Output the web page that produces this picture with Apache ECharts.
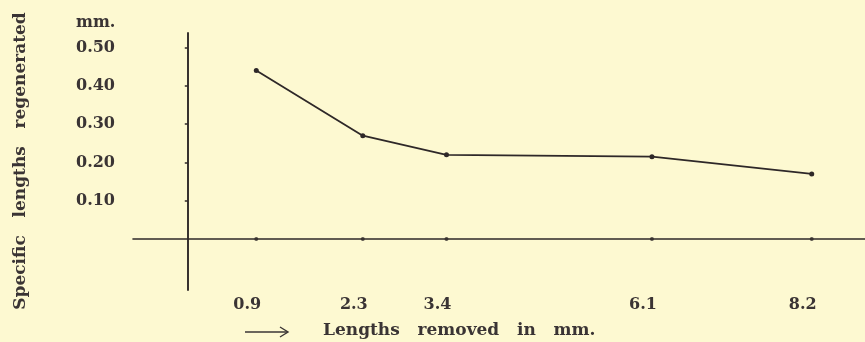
<!DOCTYPE html>
<html>
<head>
<meta charset="utf-8">
<style>
  html, body { margin: 0; padding: 0; background: #fdf9d1; }
  #chart { width: 865px; height: 342px; }
</style>
<script src="https://cdn.jsdelivr.net/npm/echarts@6/dist/echarts.min.js"></script>
</head>
<body>
<div id="chart"></div>
<script>
// Lengths removed (mm) and the specific lengths regenerated (mm)
const lengthsRemoved = [0.9, 2.3, 3.4, 6.1, 8.2];
const specificRegenerated = [0.44, 0.27, 0.22, 0.215, 0.17];
const yTickValues = [0.1, 0.2, 0.3, 0.4, 0.5];

const ink = '#2e2828';
const textColor = '#3a3434';
const serif = '"DejaVu Serif", "Liberation Serif", serif';

const chart = echarts.init(document.getElementById('chart'), null, { renderer: 'canvas' });

chart.setOption({
  backgroundColor: '#fdf9d1',
  animation: false,
  grid: { left: 133, right: 0, top: 33, bottom: 52, containLabel: false, outerBoundsMode: 'none' },
  xAxis: {
    type: 'value',
    min: -0.72,
    max: 8.9,
    splitLine: { show: false },
    axisLine: { show: true, onZero: true, lineStyle: { color: ink, width: 1.6 } },
    axisTick: { show: false },
    axisLabel: {
      customValues: lengthsRemoved,
      margin: 7,
      padding: [0, 18, 0, 0],
      color: textColor,
      fontFamily: serif,
      fontWeight: 'bold',
      fontSize: 16,
      formatter: v => v.toFixed(1)
    }
  },
  yAxis: {
    type: 'value',
    min: -0.133,
    max: 0.538,
    splitLine: { show: false },
    axisLine: { show: true, onZero: true, lineStyle: { color: ink, width: 1.9 } },
    axisTick: { show: true, customValues: yTickValues, length: 3, lineStyle: { color: ink, width: 1.5 } },
    axisLabel: {
      customValues: yTickValues,
      align: 'left',
      margin: 57,
      color: textColor,
      fontFamily: serif,
      fontWeight: 'bold',
      fontSize: 16,
      formatter: v => v.toFixed(2)
    }
  },
  graphic: [
    {
      type: 'text',
      left: 76,
      top: 15,
      style: { text: 'mm.', fill: textColor, font: 'bold 16px ' + serif }
    },
    {
      type: 'text',
      x: 21,
      y: 161,
      rotation: Math.PI / 2,
      style: {
        text: 'Specific   lengths   regenerated',
        fill: textColor,
        font: 'bold 17px ' + serif,
        align: 'center',
        verticalAlign: 'middle'
      }
    },
    // long arrow in front of the x-axis title
    {
      type: 'group',
      children: [
        { type: 'line', shape: { x1: 245, y1: 332, x2: 287, y2: 332 }, style: { stroke: textColor, lineWidth: 1.4 } },
        { type: 'polyline', shape: { points: [[280, 327], [288, 332], [280, 337]] }, style: { stroke: textColor, lineWidth: 1.4, fill: null } }
      ]
    },
    {
      type: 'text',
      x: 323,
      y: 331,
      style: {
        text: 'Lengths   removed   in   mm.',
        fill: textColor,
        font: 'bold 17px ' + serif,
        align: 'left',
        verticalAlign: 'middle'
      }
    }
  ],
  series: [
    {
      name: 'Specific lengths regenerated',
      type: 'line',
      data: lengthsRemoved.map((x, i) => [x, specificRegenerated[i]]),
      symbol: 'circle',
      symbolSize: 5,
      lineStyle: { color: ink, width: 1.8 },
      itemStyle: { color: ink }
    },
    {
      name: 'baseline points',
      type: 'scatter',
      data: lengthsRemoved.map(x => [x, 0]),
      symbol: 'circle',
      symbolSize: 4,
      itemStyle: { color: ink }
    }
  ]
});
</script>
</body>
</html>
